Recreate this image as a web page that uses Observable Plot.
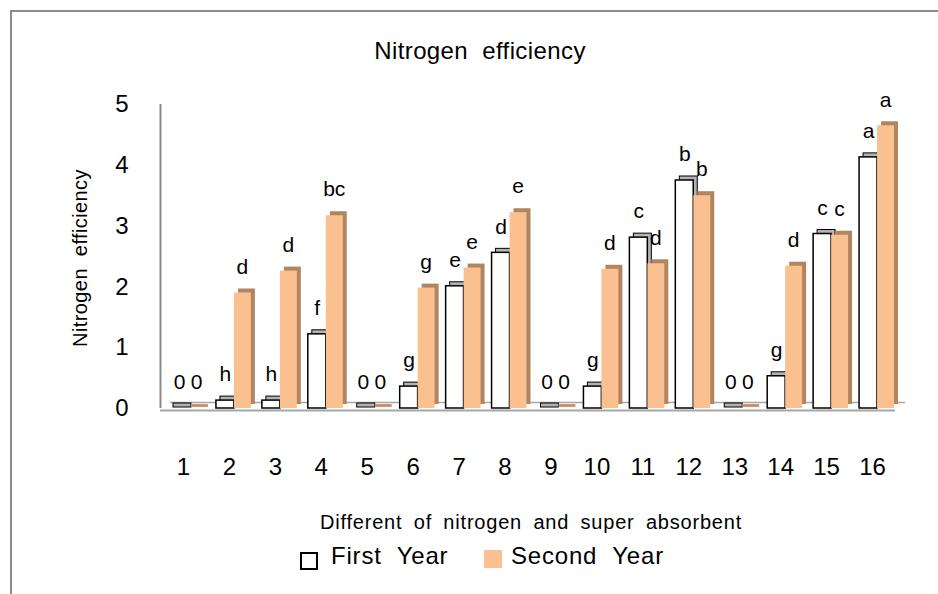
<!DOCTYPE html>
<html>
<head>
<meta charset="utf-8">
<script src="https://cdn.jsdelivr.net/npm/d3@7"></script>
<script src="https://cdn.jsdelivr.net/npm/@observablehq/plot@0.6"></script>
<style>
  html, body { margin: 0; padding: 0; background: #fff; }
  #wrap { position: relative; width: 938px; height: 594px; overflow: hidden; background: #fff;
          font-family: "Liberation Sans", Arial, sans-serif; color: #000; }
  #border { position: absolute; left: 10px; top: 10px; width: 1000px; height: 700px;
            border-left: 2px solid #8c8c8c; border-top: 2px solid #8c8c8c; }
  #chart { position: absolute; left: 0; top: 0; }
  .t { position: absolute; white-space: pre; line-height: 24px; }
  #title { left: 280px; width: 400px; top: 39px; text-align: center; font-size: 24px; letter-spacing: 0.4px; word-spacing: 7px; }
  #ylab { left: -20px; top: 246px; width: 200px; text-align: center; font-size: 20px; letter-spacing: 0.4px; word-spacing: 6px; transform: rotate(-90deg); }
  #xlab { left: 231px; width: 600px; top: 512px; text-align: center; font-size: 20px; line-height: 20px; letter-spacing: 0.8px; word-spacing: 5px; }
  .sw { position: absolute; width: 18px; height: 18px; box-sizing: border-box; }
  .lt { font-size: 24px; letter-spacing: 0.8px; word-spacing: 8px; top: 544px; }
</style>
</head>
<body>
<div id="wrap">
  <div id="border"></div>
  <div id="chart"></div>
  <div id="title" class="t"></div>
  <div id="ylab" class="t"></div>
  <div id="xlab" class="t"></div>
  <div id="legend"></div>
</div>
<script>
const categories = ["1","2","3","4","5","6","7","8","9","10","11","12","13","14","15","16"];
const firstYear  = [0, 0.13, 0.13, 1.22, 0, 0.36, 2.01, 2.56, 0, 0.36, 2.81, 3.75, 0, 0.53, 2.87, 4.13];
const secondYear = [0, 1.90, 2.26, 3.17, 0, 1.98, 2.31, 3.22, 0, 2.29, 2.38, 3.50, 0, 2.34, 2.85, 4.65];
const firstLetters  = ["0","h","h","f","0","g","e","d","0","g","c","b","0","g","c","a"];
const secondLetters = ["0","d","d","bc","0","g","e","e","0","d","d","b","0","d","c","a"];
const yTicks = [0, 1, 2, 3, 4, 5];
const seriesNames = ["First Year", "Second Year"];
const titleText = "Nitrogen efficiency";
const yLabel = "Nitrogen efficiency";
const xLabel = "Different of nitrogen and super absorbent";

const rows = categories.map((c, i) => ({
  category: c, first: firstYear[i], second: secondYear[i],
  firstLetter: firstLetters[i], secondLetter: secondLetters[i]
}));

const BAND = (938 - 160 - 43) / categories.length;

const chart = Plot.plot({
  width: 938, height: 490,
  marginTop: 104, marginBottom: 82, marginLeft: 160, marginRight: 43,
  style: { fontFamily: "'Liberation Sans', Arial, sans-serif", fontSize: "24px", color: "#000", background: "transparent", overflow: "visible" },
  x: { type: "band", domain: categories, padding: 0, round: false, tickSize: 0, tickPadding: 49, label: null },
  y: { domain: [0, 5], ticks: yTicks, tickFormat: d => String(d), tickSize: 0, tickPadding: 32, label: null },
  marks: [
    // floor
    Plot.ruleY([0], { stroke: "#a6a6a6", strokeWidth: 1.5, dx: 10, dy: -6 }),
    Plot.ruleY([0], { stroke: "#a6a6a6", strokeWidth: 2, dy: 2 }),
    // y axis line
    Plot.ruleX([categories[0]], { x: d => d, y1: 0, y2: 5, dx: -BAND / 2, stroke: "#8c8c8c", strokeWidth: 2 }),
    // first year
    Plot.barY(rows, { x: "category", y: "first", insetLeft: 10, insetRight: 18, dx: 4, dy: -4, fill: "#b3b3b3", stroke: "#000", strokeWidth: 1 }),
    Plot.barY(rows.filter(d => d.first === 0), { x: "category", y: "first", insetLeft: 10, insetRight: 18, insetTop: -4, dx: 3, dy: -1, fill: "#b3b3b3", stroke: "#000", strokeWidth: 1 }),
    Plot.barY(rows, { x: "category", y: "first", insetLeft: 10, insetRight: 18, fill: "#fff", stroke: "#000", strokeWidth: 1.5 }),
    // second year
    Plot.barY(rows, { x: "category", y: "second", insetLeft: 28, insetRight: 1, dx: 4, dy: -4, fill: "#b08560" }),
    Plot.barY(rows.filter(d => d.second === 0), { x: "category", y: "second", insetLeft: 28, insetRight: 1, insetTop: -3, dx: 3, dy: -1, fill: "#c8956b" }),
    Plot.barY(rows, { x: "category", y: "second", insetLeft: 28, insetRight: 1, fill: "#fac090" }),
    // letters
    Plot.text(rows, { x: "category", y: "first", text: "firstLetter", dx: -4, dy: -26, lineAnchor: "middle", fontSize: 21, fill: "#000" }),
    Plot.text(rows, { x: "category", y: "second", text: "secondLetter", dx: 13, dy: -26, lineAnchor: "middle", fontSize: 21, fill: "#000" })
  ]
});
document.getElementById("chart").appendChild(chart);

document.getElementById("title").textContent = titleText;
document.getElementById("ylab").textContent = yLabel;
document.getElementById("xlab").textContent = xLabel;

const legend = document.getElementById("legend");
const swatches = [
  { name: seriesNames[0], left: 300, top: 552, style: "background:#fff;border:2px solid #000;", textLeft: 331 },
  { name: seriesNames[1], left: 484, top: 550, style: "background:#fac090;", textLeft: 511 }
];
swatches.forEach(s => {
  const sw = document.createElement("div");
  sw.className = "sw";
  sw.style.cssText = `left:${s.left}px;top:${s.top}px;` + s.style;
  legend.appendChild(sw);
  const t = document.createElement("div");
  t.className = "t lt";
  t.style.left = s.textLeft + "px";
  t.textContent = s.name;
  legend.appendChild(t);
});
</script>
</body>
</html>
